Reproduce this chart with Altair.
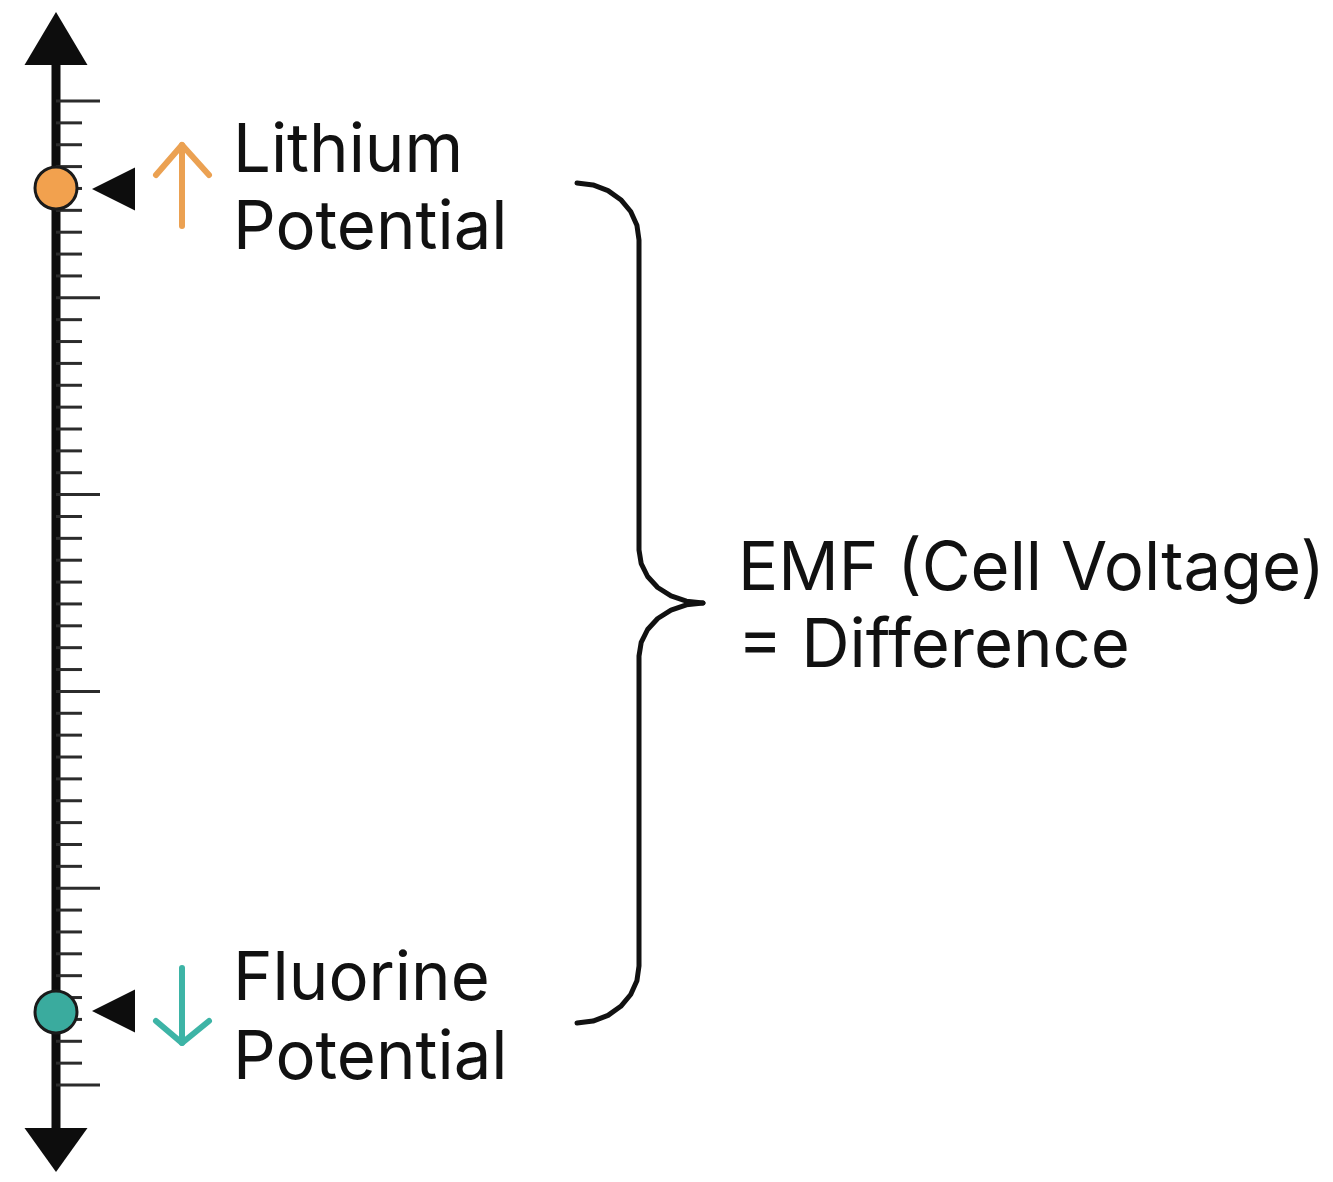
import altair as alt
import pandas as pd

# ---------------- data (diagram units = page pixels) ----------------
W, H = 1317, 1166
AXIS_X = 56

# potential scale ticks: 6 major ticks, 8 minor ticks between each pair
tick_top, tick_step, n_ticks = 101, 21.867, 46
tick_y = [tick_top + tick_step * i for i in range(n_ticks)]
tick_major = [i % 9 == 0 for i in range(n_ticks)]

# markers on the scale
marker_names = ["Lithium", "Fluorine"]
marker_y = [188, 1012]
marker_fill = ["#F2A14E", "#3AAB9E"]
arrow_color = ["#EBA152", "#3DB4A6"]

# direction arrows next to markers (shaft top/bottom, chevron)
shaft_top = [145, 968]
shaft_bottom = [226, 1043]
chev_x = [[156, 182, 209], [156, 182, 209]]
chev_y = [[175, 145, 175], [1021, 1043, 1021]]

# pointer triangles
pointer_x = [113.5, 113.5]
pointer_y = [189, 1011]

# axis arrowheads
head_x = [AXIS_X, AXIS_X]
head_y = [38.5, 1150]
head_shape = ["M0,-0.84L1,0.84L-1,0.84Z", "M0,0.7L1,-0.7L-1,-0.7Z"]

# labels
label_text = ["Lithium", "Potential", "Fluorine", "Potential",
              "EMF (Cell Voltage)", "= Difference"]
label_x = [233, 233, 233, 233, 738, 738]
label_y = [172, 249, 1000, 1079, 590, 667]

# curly brace (upper half: top end -> cusp, lower half: cusp -> bottom end)
brace_part = ["upper"] * 14 + ["lower"] * 14
brace_x = [577, 593.0, 608.0, 620.8, 630.7, 636.9, 639,
           639, 641.2, 647.6, 657.7, 671, 686.4, 703,
           703, 686.4, 671, 657.7, 647.6, 641.2, 639,
           639, 636.9, 630.7, 620.8, 608.0, 593.0, 577]
brace_y = [183, 184.9, 190.6, 199.7, 211.5, 225.2, 240,
           550, 563.7, 576.5, 587.5, 595.9, 601.2, 603,
           603, 604.8, 610.1, 618.5, 629.5, 642.3, 656,
           966, 980.8, 994.5, 1006.3, 1015.4, 1021.1, 1023]

# ---------------- tables ----------------
ticks = pd.DataFrame({
    "x": [AXIS_X] * n_ticks,
    "x2": [100 if m else 82 for m in tick_major],
    "y": tick_y,
})
axis_line = pd.DataFrame({"x": [AXIS_X], "y": [45], "y2": [1140]})
heads = pd.DataFrame({"x": head_x, "y": head_y, "shape": head_shape})
markers = pd.DataFrame({"name": marker_names, "x": [AXIS_X] * 2,
                        "y": marker_y, "fill": marker_fill})
pointers = pd.DataFrame({"x": pointer_x, "y": pointer_y})
shafts = pd.DataFrame({"x": [182, 182], "y": shaft_top, "y2": shaft_bottom,
                       "c": arrow_color})
chev_rows = []
for k in range(2):
    for j in range(3):
        chev_rows.append({"id": k, "o": j, "x": chev_x[k][j],
                          "y": chev_y[k][j], "c": arrow_color[k]})
chevrons = pd.DataFrame(chev_rows)
labels = pd.DataFrame({"text": label_text, "x": label_x, "y": label_y})
brace = pd.DataFrame({"part": brace_part, "x": brace_x, "y": brace_y,
                      "o": list(range(len(brace_x)))})

# ---------------- encodings ----------------
xs = alt.X("x:Q", scale=alt.Scale(domain=[8, 1325]), axis=None)
ys = alt.Y("y:Q", scale=alt.Scale(domain=[8, 1174], reverse=True), axis=None)

axis_layer = alt.Chart(axis_line).mark_rule(
    strokeWidth=9, color="#0d0d0d").encode(x=xs, y=ys, y2="y2:Q")

tick_layer = alt.Chart(ticks).mark_rule(
    strokeWidth=3, color="#2b2b2b").encode(x=xs, x2="x2:Q", y=ys)

head_layer = alt.Chart(heads).mark_point(
    filled=True, size=63 ** 2, color="#0d0d0d", opacity=1).encode(
    x=xs, y=ys, shape=alt.Shape("shape:N", scale=None, legend=None))

marker_layer = alt.Chart(markers).mark_point(
    shape="circle", filled=True, size=42 ** 2, stroke="#1a1a1a",
    strokeWidth=3, opacity=1).encode(
    x=xs, y=ys, fill=alt.Fill("fill:N", scale=None, legend=None))

pointer_layer = alt.Chart(pointers).mark_point(
    shape="M-1,0L1,-1L1,1Z", filled=True, size=43 ** 2,
    color="#0d0d0d", opacity=1).encode(x=xs, y=ys)

shaft_layer = alt.Chart(shafts).mark_rule(
    strokeWidth=6, strokeCap="round").encode(
    x=xs, y=ys, y2="y2:Q", color=alt.Color("c:N", scale=None, legend=None))

chev_layer = alt.Chart(chevrons).mark_line(
    strokeWidth=6, strokeCap="round", strokeJoin="round").encode(
    x=xs, y=ys, detail="id:N", order="o:Q",
    color=alt.Color("c:N", scale=None, legend=None))

label_layer = alt.Chart(labels).mark_text(
    font="Inter", fontSize=67, align="left", baseline="alphabetic",
    color="#111111").encode(x=xs, y=ys, text="text:N")

brace_layer = alt.Chart(brace).mark_line(
    interpolate="linear", strokeWidth=5, color="#111111",
    strokeCap="round", strokeJoin="round").encode(
    x=xs, y=ys, detail="part:N", order="o:Q")

chart = alt.layer(
    axis_layer, tick_layer, head_layer, shaft_layer, chev_layer,
    marker_layer, pointer_layer, label_layer, brace_layer,
).properties(
    width=W, height=H, padding=0, autosize="none", background="white"
).configure_view(stroke=None)

chart.save("out.html", embed_options={"renderer": "svg", "actions": False})
